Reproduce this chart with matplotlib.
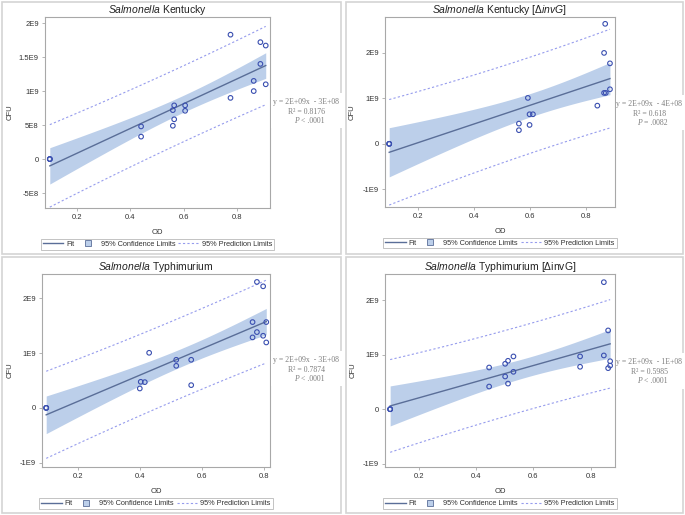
import numpy as np
import matplotlib
matplotlib.use('Agg')
import matplotlib.pyplot as plt
from matplotlib.lines import Line2D
from matplotlib.patches import Rectangle

plt.rcParams['font.family'] = 'Liberation Sans'
plt.rcParams['mathtext.fontset'] = 'custom'
plt.rcParams['mathtext.it'] = 'Liberation Sans:italic'
plt.rcParams['mathtext.rm'] = 'Liberation Sans'

# ---- data (OD vs CFU); blanks are triplicates at 0 ----
kent_od = [0.098, 0.098, 0.098, 0.44, 0.44, 0.559, 0.564, 0.564, 0.559, 0.605, 0.605,
           0.775, 0.775, 0.862, 0.862, 0.887, 0.887, 0.907, 0.907]
kent_cfu = [0, 0, 0, 0.48e9, 0.33e9, 0.72e9, 0.79e9, 0.585e9, 0.49e9, 0.79e9, 0.71e9,
            1.83e9, 0.90e9, 1.15e9, 1.0e9, 1.72e9, 1.40e9, 1.67e9, 1.10e9]

kinv_od = [0.098, 0.098, 0.098, 0.561, 0.561, 0.593, 0.599, 0.599, 0.611,
           0.841, 0.865, 0.869, 0.865, 0.871, 0.886, 0.886]
kinv_cfu = [0, 0, 0, 0.445e9, 0.30e9, 1.01e9, 0.65e9, 0.415e9, 0.65e9,
            0.84e9, 2.0e9, 2.64e9, 1.12e9, 1.12e9, 1.77e9, 1.20e9]

typh_od = [0.0995, 0.0995, 0.0995, 0.40, 0.403, 0.416, 0.43, 0.517, 0.517, 0.565, 0.565,
           0.762, 0.762, 0.776, 0.776, 0.796, 0.796, 0.806, 0.806]
typh_cfu = [0, 0, 0, 0.354e9, 0.476e9, 0.47e9, 1.006e9, 0.878e9, 0.768e9, 0.878e9, 0.415e9,
            1.567e9, 1.287e9, 2.30e9, 1.384e9, 2.22e9, 1.317e9, 1.567e9, 1.195e9]

tinv_od = [0.099, 0.099, 0.099, 0.445, 0.445, 0.501, 0.501, 0.511, 0.511, 0.53, 0.53,
           0.763, 0.763, 0.846, 0.846, 0.861, 0.861, 0.868, 0.868]
tinv_cfu = [0, 0, 0, 0.765e9, 0.416e9, 0.833e9, 0.60e9, 0.888e9, 0.47e9, 0.968e9, 0.686e9,
            0.968e9, 0.778e9, 2.33e9, 0.986e9, 1.445e9, 0.753e9, 0.88e9, 0.80e9]

titles = [r'$\mathit{Salmonella}$ Kentucky',
          r'$\mathit{Salmonella}$ Kentucky [$\mathit{ΔinvG}$]',
          r'$\mathit{Salmonella}$ Typhimurium',
          r'$\mathit{Salmonella}$ Typhimurium [ΔinvG]']

eq_lines = ['y = 2E+09x  - 3E+08', 'y = 2E+09x  - 4E+08',
            'y = 2E+09x  - 3E+08', 'y = 2E+09x  - 1E+08']
r2_lines = ['R² = 0.8176', 'R² = 0.618', 'R² = 0.7874', 'R² = 0.5985']
p_lines = ['< .0001', '= .0082', '< .0001', '< .0001']

big_ticks = [-5e8, 0, 5e8, 1e9, 1.5e9, 2e9]
big_labels = ['-5E8', '0', '5E8', '1E9', '1.5E9', '2E9']
small_ticks = [-1e9, 0, 1e9, 2e9]
small_labels = ['-1E9', '0', '1E9', '2E9']

# t quantiles (0.975) for the residual degrees of freedom
t975 = {12: 2.179, 14: 2.145, 15: 2.131, 17: 2.110}

FIT_C = '#5a6e98'
BAND_C = '#bccfea'
PT_C = '#3a4fb0'
PI_C = '#969ced'
GRID_C = '#a8a8a8'

W, H = 685, 515
fig = plt.figure(figsize=(W / 100, H / 100), dpi=100)
fig.patch.set_facecolor('white')


def px_axes(l, r, t, b):
    return fig.add_axes([l / W, 1 - b / H, (r - l) / W, (b - t) / H])


def draw_panel(ax, od, cfu, title, xlim, ylim, yt, ytl, ylab_px):
    x = np.array(od)
    y = np.array(cfu)
    n = len(x)
    slope, icpt = np.polyfit(x, y, 1)
    resid = y - (slope * x + icpt)
    s = np.sqrt(np.sum(resid ** 2) / (n - 2))
    sxx = np.sum((x - x.mean()) ** 2)
    t = t975[n - 2]
    xs = np.linspace(x.min(), x.max(), 100)
    ys = slope * xs + icpt
    ci = t * s * np.sqrt(1 / n + (xs - x.mean()) ** 2 / sxx)
    pi = t * s * np.sqrt(1 + 1 / n + (xs - x.mean()) ** 2 / sxx)

    ax.fill_between(xs, ys - ci, ys + ci, color=BAND_C, lw=0, zorder=1)
    ax.plot(xs, ys, color=FIT_C, lw=1.0, zorder=2)
    ax.plot(xs, ys + pi, color=PI_C, lw=0.8, ls=(0, (2, 2)), zorder=2)
    ax.plot(xs, ys - pi, color=PI_C, lw=0.8, ls=(0, (2, 2)), zorder=2)
    ax.scatter(x, y, s=11, facecolors='none', edgecolors=PT_C, lw=0.8, zorder=3)

    ax.set_xlim(xlim)
    ax.set_ylim(ylim)
    ax.set_xticks([0.2, 0.4, 0.6, 0.8])
    ax.set_xticklabels(['0.2', '0.4', '0.6', '0.8'])
    ax.set_yticks(yt)
    ax.set_yticklabels(ytl)
    ax.tick_params(labelsize=5.5, length=2.5, width=0.6, color=GRID_C,
                   labelcolor='#333333', pad=2)
    for sp in ax.spines.values():
        sp.set_color(GRID_C)
        sp.set_linewidth(0.8)
    ax.set_title(title, fontsize=7.5, color='#222222', pad=2)
    ax.set_xlabel('OD', fontsize=5.5, color='#333333')
    ax.set_ylabel('CFU', fontsize=5.5, color='#333333')
    w_px = ax.get_position().width * W
    ax.xaxis.set_label_coords(0.5, -0.11)
    ax.yaxis.set_label_coords(-ylab_px / w_px, 0.5)

    handles = [Line2D([], [], color=FIT_C, lw=1.0),
               Line2D([], [], marker='s', ls='none', mfc=BAND_C, mec=FIT_C,
                      mew=0.6, ms=4),
               Line2D([], [], color=PI_C, lw=0.8, ls=(0, (2, 2)))]
    labels = ['Fit', '95% Confidence Limits', '95% Prediction Limits']
    leg = ax.legend(handles, labels, loc='center', bbox_to_anchor=(0.5, -0.19),
                    ncol=3, fontsize=5.3, frameon=True, fancybox=False,
                    handlelength=2.8, handleheight=0.6, columnspacing=0.4,
                    handletextpad=0.4, borderpad=0.25, labelcolor='#333333')
    leg.get_frame().set_edgecolor(GRID_C)
    leg.get_frame().set_linewidth(0.6)


# panel borders
for (x0, y0, x1, y1) in [(2, 2, 341, 254), (346, 2, 683, 254),
                         (2, 257, 341, 513), (346, 257, 683, 513)]:
    fig.add_artist(Rectangle((x0 / W, 1 - y1 / H), (x1 - x0) / W, (y1 - y0) / H,
                             transform=fig.transFigure, fill=False,
                             ec='#d4d4d4', lw=1.2))

ax1 = px_axes(45, 270, 17, 208)
draw_panel(ax1, kent_od, kent_cfu, titles[0], (0.08, 0.923), (-7.2e8, 2.09e9),
           big_ticks, big_labels, 31.5)
ax2 = px_axes(385, 615, 17, 207)
draw_panel(ax2, kinv_od, kinv_cfu, titles[1], (0.083, 0.904), (-1.39e9, 2.79e9),
           small_ticks, small_labels, 29.5)
ax3 = px_axes(42, 270, 274, 467)
draw_panel(ax3, typh_od, typh_cfu, titles[2], (0.086, 0.818), (-1.08e9, 2.445e9),
           small_ticks, small_labels, 28.5)
ax4 = px_axes(385, 615, 274, 467)
draw_panel(ax4, tinv_od, tinv_cfu, titles[3], (0.081, 0.885), (-1.06e9, 2.48e9),
           small_ticks, small_labels, 28.5)

# annotation boxes (white, over the frame)
boxes = [(270.5, 93, 344, 128), (615.5, 95, 685, 130),
         (270.5, 351, 344, 386), (615.5, 353, 685, 389)]
for i, (x0, y0, x1, y1) in enumerate(boxes):
    fig.add_artist(Rectangle((x0 / W, 1 - y1 / H), (x1 - x0) / W, (y1 - y0) / H,
                             transform=fig.transFigure, fc='white', ec='none',
                             zorder=5))
    cx = (x0 + x1) / 2 - 1
    tc = '#7f7f7f'
    fig.text(cx / W, 1 - (y0 + 9) / H, eq_lines[i], ha='center', va='center',
             fontsize=5.6, family='Liberation Serif', color=tc, zorder=6)
    fig.text(cx / W, 1 - (y0 + 19) / H, r2_lines[i], ha='center', va='center',
             fontsize=5.6, family='Liberation Serif', color=tc, zorder=6)
    fig.text((cx - 7) / W, 1 - (y0 + 28) / H, 'P', ha='right', va='center',
             fontsize=5.6, family='Liberation Serif', style='italic', color=tc, zorder=6)
    fig.text((cx - 5.5) / W, 1 - (y0 + 28) / H, p_lines[i], ha='left', va='center',
             fontsize=5.6, family='Liberation Serif', color=tc, zorder=6)

fig.savefig('out.png', dpi=100)
